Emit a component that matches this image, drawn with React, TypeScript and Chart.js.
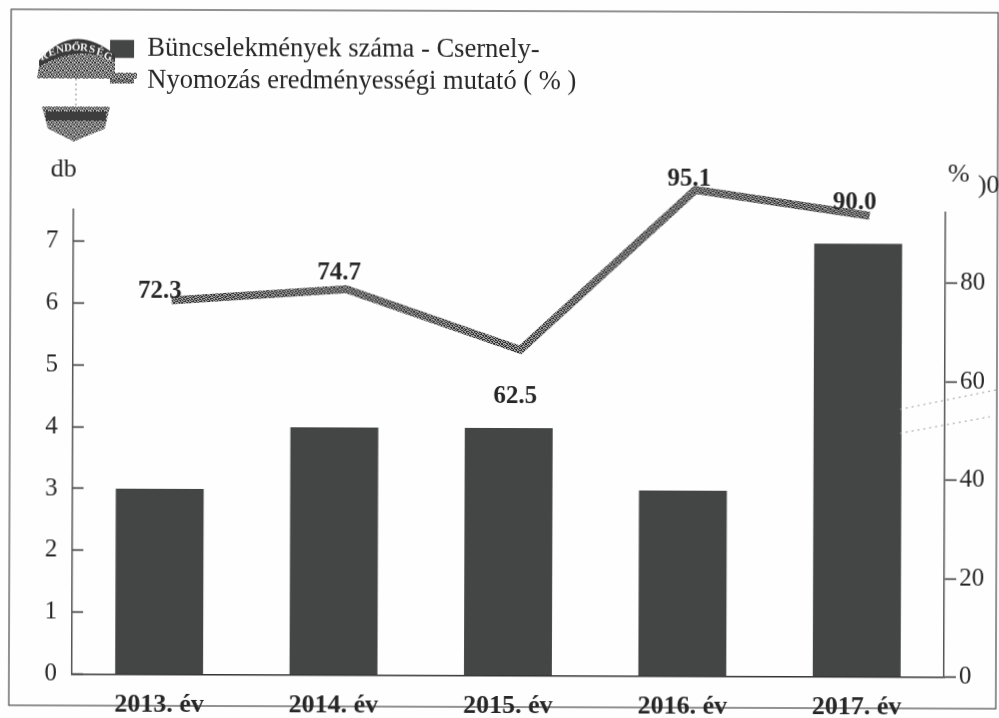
import React, { useEffect, useRef } from "react";
import { Chart, registerables } from "chart.js";

Chart.register(...registerables);

const categories = ["2013. év", "2014. év", "2015. év", "2016. év", "2017. év"];
const crimeCounts = [3, 4, 4, 3, 7];
const clearanceRates = [72.3, 74.7, 62.5, 95.1, 90.0];
const crimeLabel = "Büncselekmények száma - Csernely-";
const rateLabel = "Nyomozás eredményességi mutató ( % )";
const labelOffsets = [[-12, -9], [-7, -16], [-5, 47], [-6, -11], [-15, -13]];

const SERIF = "'Liberation Serif', 'DejaVu Serif', serif";
const INK = "#262626";
const BAR = "#434645";

const GRAIN = [
  "10010110",
  "01101001",
  "11000110",
  "00111001",
  "10100101",
  "01011010",
  "11001001",
  "00110110",
];

function ditherPattern(dark: string, light: string) {
  const c = document.createElement("canvas");
  c.width = 8;
  c.height = 8;
  const g = c.getContext("2d")!;
  GRAIN.forEach((row, y) =>
    row.split("").forEach((b, x) => {
      g.fillStyle = b === "1" ? dark : light;
      g.fillRect(x, y, 1, 1);
    })
  );
  return g.createPattern(c, "repeat")!;
}

function drawLogo(ctx: CanvasRenderingContext2D, tex: CanvasPattern) {
  ctx.save();
  ctx.fillStyle = "#3a3a3a";
  ctx.beginPath();
  ctx.moveTo(38, 62);
  ctx.quadraticCurveTo(72, 22, 114, 56);
  ctx.lineTo(114, 64);
  ctx.quadraticCurveTo(75, 44, 38, 70);
  ctx.closePath();
  ctx.fill();
  ctx.fillStyle = tex;
  ctx.beginPath();
  ctx.moveTo(38, 68);
  ctx.quadraticCurveTo(75, 46, 114, 62);
  ctx.lineTo(114, 74);
  ctx.lineTo(136, 74);
  ctx.lineTo(136, 80);
  ctx.lineTo(36, 80);
  ctx.closePath();
  ctx.fill();
  ctx.fillStyle = "#f2f2f2";
  ctx.font = "bold 11px " + SERIF;
  ctx.textAlign = "center";
  ctx.textBaseline = "middle";
  const word = "RENDŐRSÉG";
  for (let i = 0; i < word.length; i++) {
    const t = (i - 4) / 4;
    ctx.save();
    ctx.translate(75 + t * 32, 49 + t * t * 9);
    ctx.rotate(t * 0.3);
    ctx.fillText(word[i], 0, 0);
    ctx.restore();
  }
  ctx.strokeStyle = "#888";
  ctx.lineWidth = 1;
  ctx.setLineDash([2, 3]);
  ctx.beginPath();
  ctx.moveTo(75, 80);
  ctx.lineTo(75, 108);
  ctx.stroke();
  ctx.setLineDash([]);
  ctx.fillStyle = tex;
  ctx.beginPath();
  ctx.moveTo(41, 108);
  ctx.lineTo(109, 108);
  ctx.lineTo(104, 130);
  ctx.lineTo(73, 143);
  ctx.lineTo(47, 130);
  ctx.closePath();
  ctx.fill();
  ctx.fillStyle = "#3d3d3d";
  ctx.fillRect(45, 113, 60, 9);
  ctx.restore();
}

export default function App() {
  const ref = useRef<HTMLCanvasElement>(null);
  useEffect(() => {
    document.body.style.margin = "0";
    const lineTex = ditherPattern("#2e2e2e", "#a8a8a8");
    const logoTex = ditherPattern("#303030", "#c8c8c8");
    const paper = {
      id: "paper",
      beforeDraw(chart: any) {
        const { ctx, legend } = chart;
        ctx.save();
        ctx.fillStyle = "#fefefe";
        ctx.fillRect(-5, -5, 1010, 730);
        ctx.strokeStyle = "#4a4a4a";
        ctx.lineWidth = 1.2;
        ctx.strokeRect(10, 11, 987, 696);
        ctx.restore();
        legend.left = 104;
        legend.top = 32;
      },
      afterDraw(chart: any) {
        const { ctx } = chart;
        drawLogo(ctx, logoTex);
        ctx.save();
        ctx.fillStyle = INK;
        ctx.font = "26px " + SERIF;
        ctx.textBaseline = "middle";
        ctx.textAlign = "center";
        ctx.fillText("db", 63, 171);
        ctx.fillText("%", 958, 173);
        ctx.fillText(")0", 988, 184);
        const pts = chart.getDatasetMeta(1).data;
        ctx.font = "bold 25px " + SERIF;
        clearanceRates.forEach((v, i) => {
          ctx.fillText(v.toFixed(1), pts[i].x + labelOffsets[i][0], pts[i].y + labelOffsets[i][1]);
        });
        ctx.strokeStyle = "#999";
        ctx.lineWidth = 1;
        ctx.setLineDash([2, 4]);
        ctx.beginPath();
        ctx.moveTo(900, 408);
        ctx.lineTo(997, 388);
        ctx.moveTo(900, 432);
        ctx.lineTo(990, 415);
        ctx.stroke();
        ctx.restore();
      },
    };
    const chart = new Chart(ref.current!, {
      type: "bar",
      plugins: [paper],
      data: {
        labels: categories,
        datasets: [
          {
            type: "bar",
            label: crimeLabel,
            data: crimeCounts,
            backgroundColor: BAR,
            borderWidth: 0,
            grouped: false,
            barPercentage: 0.504,
            categoryPercentage: 1,
            yAxisID: "y",
            xAxisID: "x",
            order: 2,
          },
          {
            type: "line",
            label: rateLabel,
            data: clearanceRates.map((y, x) => ({ x, y })),
            borderColor: lineTex,
            backgroundColor: lineTex,
            borderWidth: 8,
            pointRadius: 0,
            tension: 0,
            fill: false,
            clip: false,
            yAxisID: "yLine",
            xAxisID: "xLine",
            order: 1,
          },
        ],
      } as any,
      options: {
        responsive: false,
        animation: false,
        layout: { padding: { top: 138, bottom: 0, left: 0, right: 0 } },
        plugins: {
          title: { display: false },
          tooltip: { enabled: false },
          legend: {
            display: true,
            position: "top",
            align: "start",
            fullSize: false,
            labels: {
              color: INK,
              font: { family: SERIF, size: 26.5 },
              usePointStyle: true,
              pointStyleWidth: 24,
              boxHeight: 18,
              padding: 5,
              generateLabels: (c: any) =>
                c.data.datasets.map((d: any, i: number) => ({
                  text: d.label,
                  datasetIndex: i,
                  fontColor: INK,
                  fillStyle: d.backgroundColor,
                  strokeStyle: i === 1 ? d.borderColor : d.backgroundColor,
                  lineWidth: i === 1 ? 6 : 0,
                  pointStyle: i === 1 ? "line" : "rect",
                  hidden: false,
                })),
            },
          },
        },
        scales: {
          x: {
            type: "category",
            offset: true,
            afterFit: (s: any) => { s.height = 42.5; },
            border: { color: "#333", width: 1.5 },
            grid: { drawOnChartArea: false, drawTicks: false },
            ticks: { color: INK, padding: 15, maxRotation: 0, font: { family: SERIF, size: 26, weight: "bold" } },
          },
          xLine: { type: "linear", display: false, offset: false, min: -0.565, max: 4.435 },
          y: {
            position: "left",
            min: 0,
            max: 7.51,
            afterBuildTicks: (s: any) => { s.ticks = s.ticks.filter((t: any) => Number.isInteger(t.value)); },
            afterFit: (s: any) => { s.width = 73; },
            border: { color: "#555", width: 1.5 },
            grid: { drawOnChartArea: false, tickLength: -11, color: "#333", tickWidth: 1.5 },
            ticks: { stepSize: 1, padding: 26, color: INK, font: { family: SERIF, size: 25 } },
          },
          y2: {
            position: "right",
            min: 0,
            max: 94.4,
            afterBuildTicks: (s: any) => { s.ticks = s.ticks.filter((t: any) => t.value % 20 === 0); },
            afterFit: (s: any) => { s.width = 54; },
            border: { color: "#555", width: 1.5 },
            grid: { drawOnChartArea: false, tickLength: 12, color: "#333", tickWidth: 1.5 },
            ticks: { stepSize: 20, padding: 3, color: INK, font: { family: SERIF, size: 25 } },
          },
          yLine: { type: "linear", display: false, min: -3.68, max: 90.7 },
        },
      } as any,
    });
    return () => chart.destroy();
  }, []);
  return (
    <div style={{ position: "absolute", left: 0, top: 0, width: 999, height: 718, overflow: "hidden", background: "#fefefe" }}>
      <canvas ref={ref} width={999} height={718} style={{ display: "block", transform: "rotate(0.2deg)" }} />
    </div>
  );
}
